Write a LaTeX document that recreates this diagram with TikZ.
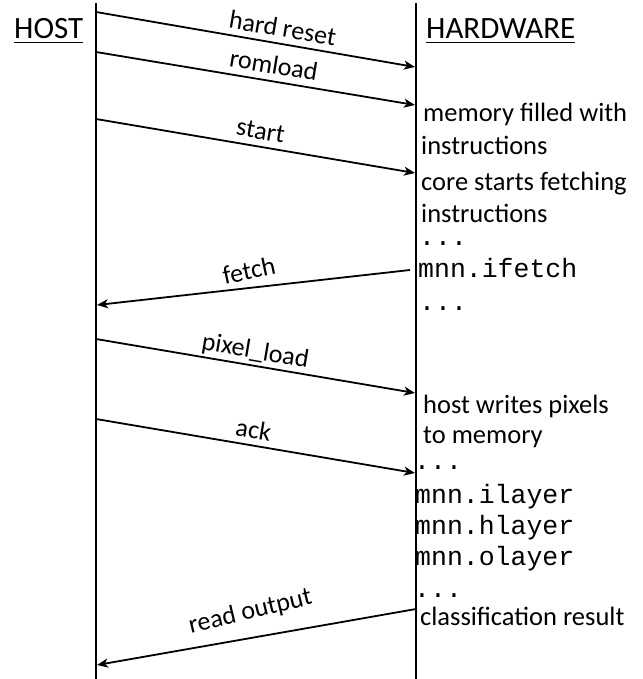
\documentclass[tikz,border=0pt]{standalone}
\usepackage{fontspec}
\setmainfont{Carlito}
\newfontfamily\monofont{Liberation Mono}
\usetikzlibrary{arrows.meta}
\begin{document}
\begin{tikzpicture}[x=1pt,y=-1pt,
  life/.style={line width=2.2pt},
  msg/.style={line width=1.8pt,-{Stealth[length=11pt,width=9pt,inset=3pt]}},
  lbl/.style={font=\fontsize{26}{31}\selectfont, inner sep=0pt, anchor=base},
  head/.style={font=\fontsize{31}{37}\selectfont, inner sep=0pt, anchor=base west},
  txt/.style={font=\fontsize{26.5}{31}\selectfont, inner sep=0pt, anchor=base west},
  mono/.style={font=\monofont\fontsize{26.5}{31}\selectfont, inner sep=0pt, anchor=base west},
  uline/.style={line width=1.8pt}]
\useasboundingbox (0,0) rectangle (642,679);
% lifelines
\coordinate (Ltop) at (96,3);
\coordinate (Lbot) at (96,679);
\coordinate (Rtop) at (416,3);
\coordinate (Rbot) at (416,679);
\draw[life] (Ltop) -- (Lbot);
\draw[life] (Rtop) -- (Rbot);
% headers
\node[head] (host) at (14,39) {HOST};
\node[head] (hw) at (426,39) {HARDWARE};
\draw[uline] ([yshift=-3.5pt]host.base west) -- ([yshift=-3.5pt]host.base east);
\draw[uline] ([yshift=-3.5pt]hw.base west) -- ([yshift=-3.5pt]hw.base east);
% message end points
\coordinate (a1s) at (96,12);  \coordinate (a1e) at (415,67);
\coordinate (a2s) at (96,52);  \coordinate (a2e) at (415,105);
\coordinate (a3s) at (96,119); \coordinate (a3e) at (415,173);
\coordinate (a4s) at (410,270); \coordinate (a4e) at (97,305);
\coordinate (a5s) at (96,339); \coordinate (a5e) at (415,393);
\coordinate (a6s) at (96,419); \coordinate (a6e) at (415,473);
\coordinate (a7s) at (416,609); \coordinate (a7e) at (97,665);
% messages
\draw[msg] (a1s) -- node[lbl, sloped, pos=0.577, yshift=7pt] {hard reset} (a1e);
\draw[msg] (a2s) -- node[lbl, sloped, pos=0.549, yshift=7.5pt] {romload} (a2e);
\draw[msg] (a3s) -- node[lbl, sloped, pos=0.508, yshift=7.5pt] {start} (a3e);
\draw[msg] (a4s) -- node[lbl, pos=0.503, rotate=12, yshift=8.5pt] {fetch} (a4e);
\draw[msg] (a5s) -- node[lbl, sloped, pos=0.492, yshift=7pt] {pixel\_load} (a5e);
\draw[msg] (a6s) -- node[lbl, sloped, pos=0.486, yshift=6.5pt] {ack} (a6e);
\draw[msg] (a7s) -- node[lbl, pos=0.5, rotate=13.5, yshift=19pt] {read output} (a7e);
% hardware side notes
\node[txt] (t1) at (423,122) {memory filled with};
\node[txt] (t2) at (421,154) {instructions};
\node[txt] (t3) at (421,190) {core starts fetching};
\node[txt] (t4) at (421,222) {instructions};
\node[mono] (d1) at (419,245) {...};
\node[mono] (m1) at (418,277) {mnn.ifetch};
\node[mono] (d2) at (419,310) {...};
\node[txt] (t5) at (423,413) {host writes pixels};
\node[txt] (t6) at (423,443) {to memory};
\node[mono] (d3) at (414,469) {...};
\node[mono] (m2) at (415,503) {mnn.ilayer};
\node[mono] (m3) at (415,534) {mnn.hlayer};
\node[mono] (m4) at (415,565) {mnn.olayer};
\node[mono] (d4) at (414,597) {...};
\node[txt] (t7) at (420,625) {classification result};
\end{tikzpicture}
\end{document}
